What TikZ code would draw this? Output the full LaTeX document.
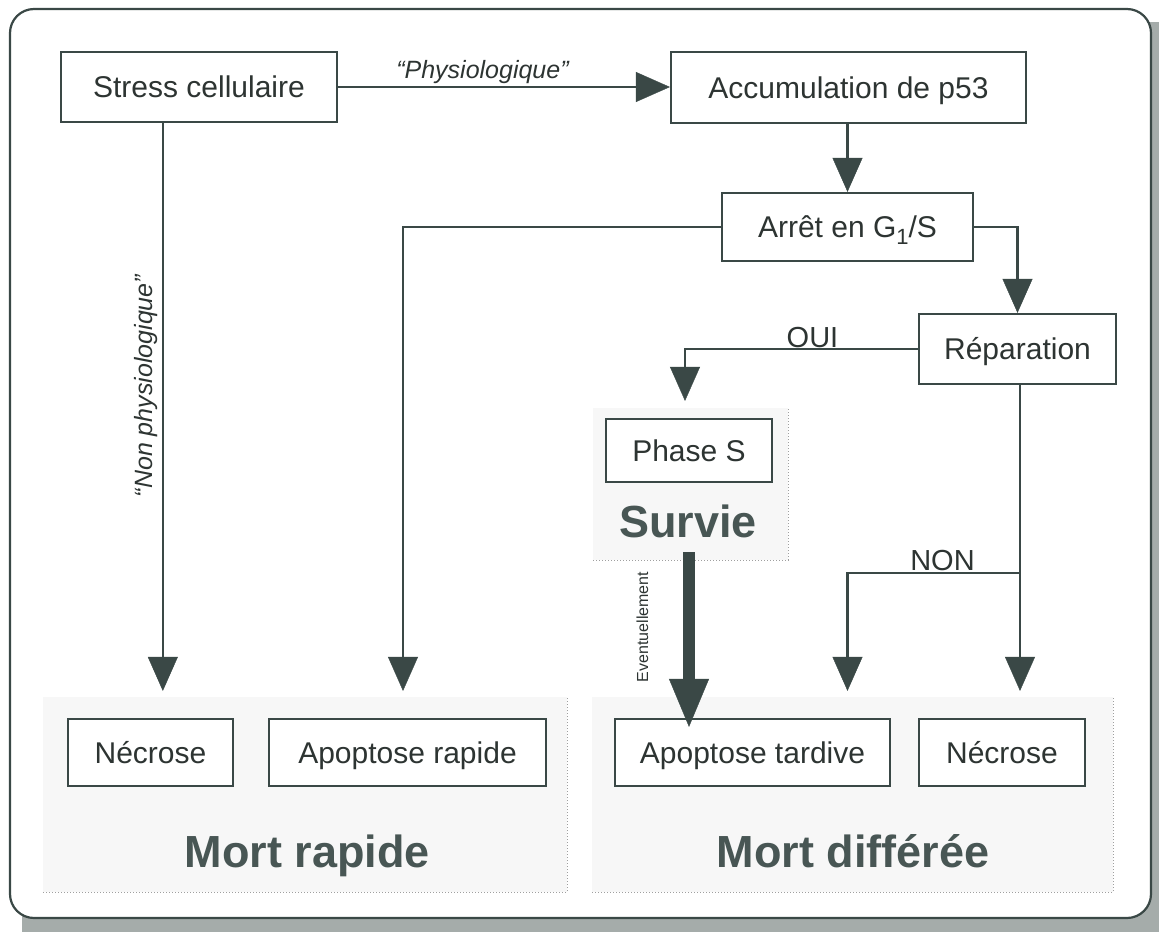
\documentclass[tikz,border=0pt]{standalone}
\usepackage{fontspec}
\setmainfont{Liberation Sans}
\usetikzlibrary{arrows.meta,calc}
\definecolor{ink}{RGB}{58,72,70}
\definecolor{txt}{RGB}{45,52,50}
\definecolor{boldc}{RGB}{72,86,84}
\definecolor{shadowc}{RGB}{165,172,170}
\begin{document}
\begin{tikzpicture}[x=1pt,y=-1pt,
  box/.style={draw=ink,line width=2.2pt,fill=white,text=txt,font=\fontsize{30}{34}\selectfont,inner sep=0pt,anchor=center,text height=21.5pt,text depth=0pt},
  conn/.style={draw=ink,line width=2.2pt},
  arr/.style={conn,-{Triangle[width=30pt,length=34pt,line width=0.4pt]}},
  lbl/.style={text=txt,font=\fontsize{29}{32}\selectfont,inner sep=0pt},
  ital/.style={text=txt,font=\itshape\fontsize{25}{28}\selectfont,inner sep=0pt},
  big/.style={text=boldc,font=\bfseries\fontsize{45}{50}\selectfont,inner sep=0pt},
  grp/.style={draw=gray!75,dotted,line width=1pt},
  grpfill/.style={fill=black!3}]
\useasboundingbox (0,0) rectangle (1159,932);
% shadow and frame
\fill[shadowc] (22,22) rectangle (1159,932);
\draw[ink,line width=2.2pt,fill=white,rounded corners=24pt] (10,9) rectangle (1151,918);

% group areas
\fill[grpfill] (43,697) rectangle (567,892);
\draw[grp] (43,892) -- (567,892) -- (567,697);
\fill[grpfill] (592,697) rectangle (1113,892);
\draw[grp] (592,892) -- (1113,892) -- (1113,697);
\fill[grpfill] (593,408) rectangle (788,560);
\draw[grp] (593,560) -- (788,560) -- (788,408);

% boxes
\node[box,minimum width=276pt,minimum height=70pt] (stress) at (199,87) {Stress cellulaire};
\node[box,minimum width=355pt,minimum height=71pt] (acc) at (848.5,87.5) {Accumulation de p53};
\node[box,minimum width=251pt,minimum height=68pt] (arret) at (847.5,227) {Arrêt en G\raisebox{-0.22em}{\fontsize{22}{22}\selectfont 1}/S};
\node[box,minimum width=197pt,minimum height=70pt] (rep) at (1017.5,349) {Réparation};
\node[box,minimum width=166pt,minimum height=63pt] (phase) at (689,450.5) {Phase S};
\node[box,minimum width=165pt,minimum height=67pt] (nl) at (150.5,752.5) {Nécrose};
\node[box,minimum width=277pt,minimum height=67pt] (apr) at (407.5,752.5) {Apoptose rapide};
\node[box,minimum width=275pt,minimum height=67pt] (at) at (752.5,752.5) {Apoptose tardive};
\node[box,minimum width=166pt,minimum height=67pt] (nr) at (1002,752.5) {Nécrose};

% big labels
\node[big,anchor=base] (survie) at (688,537) {Survie};
\node[big,anchor=base] (mr) at (307.5,867) {Mort rapide};
\node[big,anchor=base] (md) at (853,867) {Mort différée};

% connectors
\draw[arr] (stress.east) -- (stress.east -| acc.west);
\node[ital,anchor=base] (phys) at (482.5,78) {“Physiologique”};
\draw[arr] (acc.south -| arret.north) -- (arret.north);
\draw[arr,shorten >=27pt] ($(stress.south west)!0.37!(stress.south east)$) coordinate (s1) -- (s1 |- nl.north);
\node[ital,anchor=base,rotate=90] (nonphys) at (152,386) {“Non physiologique”};
\draw[arr,shorten >=27pt] (arret.west) -| ([xshift=-4.5pt]apr.north);
\draw[arr] (arret.east) -| (rep.north);
\draw[arr,shorten >=17pt] (rep.west) -| ([xshift=-4pt]phase.north);
\node[lbl,anchor=base] (oui) at (812.5,347) {OUI};
\coordinate (rx) at (1020,384);
\draw[arr,shorten >=27pt] (rx) -- (rx |- nr.north);
\coordinate (nonsplit) at (1020,573);
\draw[arr,shorten >=27pt] (nonsplit) -| (arret.south |- at.north);
\node[lbl,anchor=base] (non) at (942.5,570) {NON};
\coordinate (survb) at (689,552);
\draw[draw=ink,line width=12pt,-{Triangle[width=40pt,length=48pt,line width=0.4pt]},shorten >=-9pt] (survb) -- (survb |- at.north);
\node[text=txt,font=\fontsize{16}{18}\selectfont,inner sep=0pt,anchor=base,rotate=90] (eventu) at (648,627) {Eventuellement};
\end{tikzpicture}
\end{document}
